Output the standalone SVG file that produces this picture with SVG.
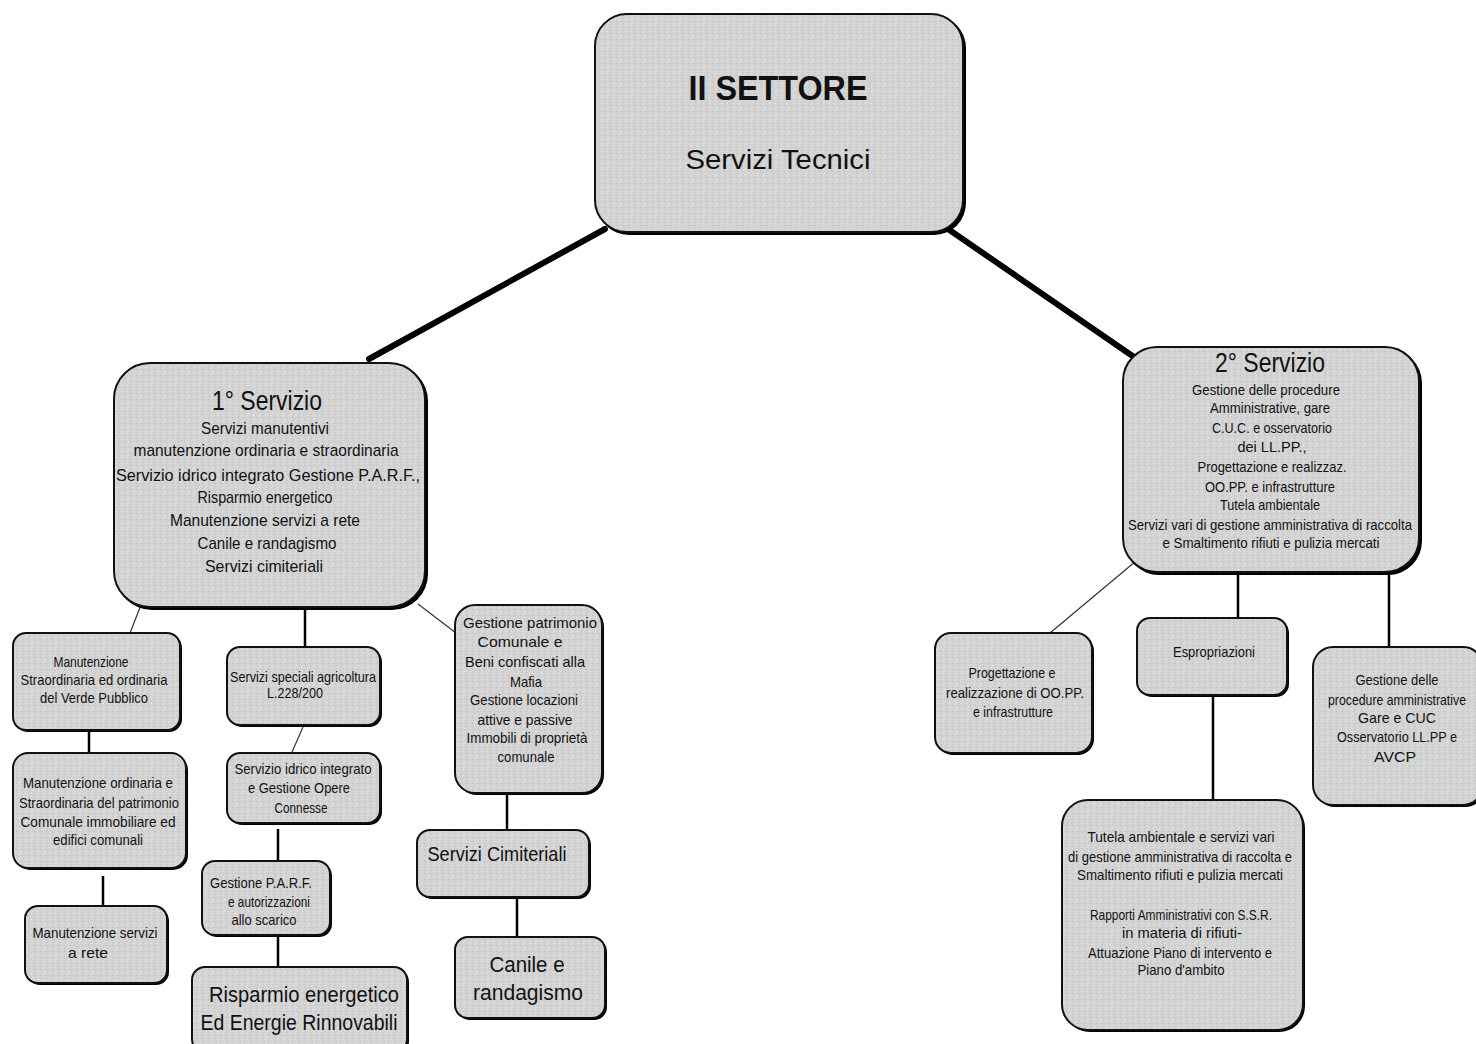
<svg xmlns="http://www.w3.org/2000/svg" width="1476" height="1044" viewBox="0 0 1476 1044">
  <defs>
    <!-- stippled grey fill used by every box -->
    <pattern id="stipple" width="6" height="6" patternUnits="userSpaceOnUse">
      <rect width="6" height="6" fill="#d3d3d3"/>
      <rect x="1" y="1" width="1" height="1" fill="#e8e8e8"/>
      <rect x="4" y="3" width="1" height="1" fill="#bcbcbc"/>
      <rect x="2" y="5" width="1" height="1" fill="#e2e2e2"/>
      <rect x="5" y="0" width="1" height="1" fill="#c4c4c4"/>
    </pattern>
    <style>
      .shadow { fill: #000; }
      .box { fill: url(#stipple); stroke: #111; stroke-width: 2; }
      .t { font-family: "Liberation Sans", Arial, sans-serif; fill: #111; text-anchor: middle; }
      .s { font-size: 15px; }
      .m { font-size: 17px; }
      .l { font-size: 22px; }
      .title { font-size: 27px; }
      .heavy { stroke: #000; stroke-width: 6; stroke-linecap: round; fill: none; }
      .solid { stroke: #000; stroke-width: 2.5; fill: none; }
      .thin { stroke: #333; stroke-width: 1.2; fill: none; }
    </style>
  </defs>

  <rect width="1476" height="1044" fill="#ffffff"/>

  <!-- connectors -->
  <g id="connectors">
    <line class="heavy" x1="605" y1="229" x2="369" y2="359"/>
    <line class="heavy" x1="948" y1="229" x2="1134" y2="357"/>
    <!-- 1° Servizio branch -->
    <line class="thin" x1="141" y1="605" x2="130" y2="633"/>
    <line class="solid" x1="89" y1="730" x2="89" y2="753"/>
    <line class="solid" x1="103" y1="876" x2="103" y2="906"/>
    <line class="solid" x1="305" y1="609" x2="305" y2="647"/>
    <line class="thin" x1="303" y1="727" x2="292" y2="752"/>
    <line class="solid" x1="278" y1="829" x2="278" y2="861"/>
    <line class="solid" x1="278" y1="936" x2="278" y2="967"/>
    <line class="thin" x1="418" y1="604" x2="456" y2="633"/>
    <line class="solid" x1="507" y1="793" x2="507" y2="830"/>
    <line class="solid" x1="517" y1="898" x2="517" y2="937"/>
    <!-- 2° Servizio branch -->
    <line class="thin" x1="1136" y1="561" x2="1050" y2="633"/>
    <line class="solid" x1="1238" y1="574" x2="1238" y2="618"/>
    <line class="solid" x1="1213" y1="695" x2="1213" y2="800"/>
    <line class="solid" x1="1389" y1="574" x2="1389" y2="647"/>
  </g>

  <!-- II SETTORE -->
  <g id="settore">
    <rect class="shadow" x="597" y="16" width="369" height="219" rx="32"/>
    <rect class="box" x="595" y="14" width="368" height="218" rx="32"/>
    <text class="t" x="778" y="100" font-size="35" font-weight="bold" textLength="179" lengthAdjust="spacingAndGlyphs">II SETTORE</text>
    <text class="t" x="778" y="169" font-size="28" textLength="185" lengthAdjust="spacingAndGlyphs">Servizi Tecnici</text>
  </g>

  <!-- 1° Servizio -->
  <g id="servizio1">
    <rect class="shadow" x="116" y="365" width="312" height="245" rx="36"/>
    <rect class="box" x="114" y="363" width="311" height="244" rx="36"/>
    <text class="t title" x="267" y="410" textLength="110" lengthAdjust="spacingAndGlyphs">1° Servizio</text>
    <text class="t m" x="265" y="434" textLength="128" lengthAdjust="spacingAndGlyphs">Servizi manutentivi</text>
    <text class="t m" x="266" y="456" textLength="265" lengthAdjust="spacingAndGlyphs">manutenzione ordinaria e straordinaria</text>
    <text class="t m" x="268" y="481" textLength="304" lengthAdjust="spacingAndGlyphs">Servizio idrico integrato Gestione P.A.R.F.,</text>
    <text class="t m" x="265" y="503" textLength="135" lengthAdjust="spacingAndGlyphs">Risparmio energetico</text>
    <text class="t m" x="265" y="526" textLength="190" lengthAdjust="spacingAndGlyphs">Manutenzione servizi a rete</text>
    <text class="t m" x="267" y="549" textLength="139" lengthAdjust="spacingAndGlyphs">Canile e randagismo</text>
    <text class="t m" x="264" y="572" textLength="118" lengthAdjust="spacingAndGlyphs">Servizi cimiteriali</text>
  </g>

  <!-- 2° Servizio -->
  <g id="servizio2">
    <rect class="shadow" x="1125" y="349" width="297" height="226" rx="34"/>
    <rect class="box" x="1123" y="347" width="296" height="225" rx="34"/>
    <text class="t title" x="1270" y="372" textLength="110" lengthAdjust="spacingAndGlyphs">2° Servizio</text>
    <text class="t s" x="1266" y="395" textLength="148" lengthAdjust="spacingAndGlyphs">Gestione delle procedure</text>
    <text class="t s" x="1270" y="413" textLength="120" lengthAdjust="spacingAndGlyphs">Amministrative, gare</text>
    <text class="t s" x="1272" y="433" textLength="120" lengthAdjust="spacingAndGlyphs">C.U.C. e osservatorio</text>
    <text class="t s" x="1272" y="452" textLength="69" lengthAdjust="spacingAndGlyphs">dei LL.PP.,</text>
    <text class="t s" x="1272" y="472" textLength="149" lengthAdjust="spacingAndGlyphs">Progettazione e realizzaz.</text>
    <text class="t s" x="1270" y="492" textLength="130" lengthAdjust="spacingAndGlyphs">OO.PP. e infrastrutture</text>
    <text class="t s" x="1270" y="510" textLength="100" lengthAdjust="spacingAndGlyphs">Tutela ambientale</text>
    <text class="t s" x="1270" y="530" textLength="284" lengthAdjust="spacingAndGlyphs">Servizi vari di gestione amministrativa di raccolta</text>
    <text class="t s" x="1271" y="548" textLength="217" lengthAdjust="spacingAndGlyphs">e Smaltimento rifiuti e pulizia mercati</text>
  </g>

  <!-- 1° Servizio: left column -->
  <g id="verde">
    <rect class="shadow" x="15" y="635" width="167" height="97" rx="13"/>
    <rect class="box" x="13" y="633" width="167" height="97" rx="13"/>
    <text class="t s" x="91" y="667" textLength="75" lengthAdjust="spacingAndGlyphs">Manutenzione</text>
    <text class="t s" x="94" y="685" textLength="147" lengthAdjust="spacingAndGlyphs">Straordinaria ed ordinaria</text>
    <text class="t s" x="94" y="703" textLength="108" lengthAdjust="spacingAndGlyphs">del Verde Pubblico</text>
  </g>

  <g id="patrimonio">
    <rect class="shadow" x="15" y="755" width="173" height="115" rx="15"/>
    <rect class="box" x="13" y="753" width="173" height="115" rx="15"/>
    <text class="t s" x="98" y="788" textLength="150" lengthAdjust="spacingAndGlyphs">Manutenzione ordinaria e</text>
    <text class="t s" x="99" y="808" textLength="160" lengthAdjust="spacingAndGlyphs">Straordinaria del patrimonio</text>
    <text class="t s" x="98" y="827" textLength="155" lengthAdjust="spacingAndGlyphs">Comunale immobiliare ed</text>
    <text class="t s" x="98" y="845" textLength="90" lengthAdjust="spacingAndGlyphs">edifici comunali</text>
  </g>

  <g id="rete">
    <rect class="shadow" x="27" y="908" width="142" height="77" rx="13"/>
    <rect class="box" x="25" y="906" width="142" height="77" rx="13"/>
    <text class="t s" x="95" y="938" textLength="125" lengthAdjust="spacingAndGlyphs">Manutenzione servizi</text>
    <text class="t s" x="88" y="958" textLength="40" lengthAdjust="spacingAndGlyphs">a rete</text>
  </g>

  <!-- 1° Servizio: middle column -->
  <g id="agricoltura">
    <rect class="shadow" x="229" y="649" width="153" height="78" rx="13"/>
    <rect class="box" x="227" y="647" width="153" height="78" rx="13"/>
    <text class="t s" x="303" y="682" textLength="146" lengthAdjust="spacingAndGlyphs">Servizi speciali agricoltura</text>
    <text class="t s" x="295" y="698" textLength="56" lengthAdjust="spacingAndGlyphs">L.228/200</text>
  </g>

  <g id="idrico">
    <rect class="shadow" x="229" y="755" width="153" height="70" rx="13"/>
    <rect class="box" x="227" y="753" width="153" height="70" rx="13"/>
    <text class="t s" x="303" y="774" textLength="137" lengthAdjust="spacingAndGlyphs">Servizio idrico integrato</text>
    <text class="t s" x="299" y="793" textLength="102" lengthAdjust="spacingAndGlyphs">e Gestione Opere</text>
    <text class="t s" x="301" y="813" textLength="53" lengthAdjust="spacingAndGlyphs">Connesse</text>
  </g>

  <g id="parf">
    <rect class="shadow" x="204" y="863" width="128" height="74" rx="13"/>
    <rect class="box" x="202" y="861" width="128" height="74" rx="13"/>
    <text class="t s" x="261" y="888" textLength="102" lengthAdjust="spacingAndGlyphs">Gestione P.A.R.F.</text>
    <text class="t s" x="269" y="907" textLength="82" lengthAdjust="spacingAndGlyphs">e autorizzazioni</text>
    <text class="t s" x="264" y="925" textLength="65" lengthAdjust="spacingAndGlyphs">allo scarico</text>
  </g>

  <g id="risparmio">
    <rect class="shadow" x="194" y="969" width="215" height="85" rx="13"/>
    <rect class="box" x="192" y="967" width="215" height="85" rx="13"/>
    <text class="t l" x="304" y="1002" textLength="190" lengthAdjust="spacingAndGlyphs">Risparmio energetico</text>
    <text class="t l" x="299" y="1030" textLength="197" lengthAdjust="spacingAndGlyphs">Ed Energie Rinnovabili</text>
  </g>

  <!-- 1° Servizio: right column -->
  <g id="beni">
    <rect class="shadow" x="457" y="607" width="147" height="188" rx="20"/>
    <rect class="box" x="455" y="605" width="147" height="188" rx="20"/>
    <text class="t s" x="530" y="628" textLength="134" lengthAdjust="spacingAndGlyphs">Gestione patrimonio</text>
    <text class="t s" x="520" y="647" textLength="85" lengthAdjust="spacingAndGlyphs">Comunale e</text>
    <text class="t s" x="525" y="667" textLength="120" lengthAdjust="spacingAndGlyphs">Beni confiscati alla</text>
    <text class="t s" x="526" y="687" textLength="32" lengthAdjust="spacingAndGlyphs">Mafia</text>
    <text class="t s" x="524" y="705" textLength="108" lengthAdjust="spacingAndGlyphs">Gestione locazioni</text>
    <text class="t s" x="525" y="725" textLength="95" lengthAdjust="spacingAndGlyphs">attive e passive</text>
    <text class="t s" x="527" y="743" textLength="121" lengthAdjust="spacingAndGlyphs">Immobili di proprietà</text>
    <text class="t s" x="526" y="762" textLength="57" lengthAdjust="spacingAndGlyphs">comunale</text>
  </g>

  <g id="cimiteriali">
    <rect class="shadow" x="419" y="832" width="172" height="67" rx="13"/>
    <rect class="box" x="417" y="830" width="172" height="67" rx="13"/>
    <text class="t" x="497" y="861" font-size="21" textLength="139" lengthAdjust="spacingAndGlyphs">Servizi Cimiteriali</text>
  </g>

  <g id="canile">
    <rect class="shadow" x="457" y="939" width="150" height="81" rx="13"/>
    <rect class="box" x="455" y="937" width="150" height="81" rx="13"/>
    <text class="t" x="527" y="972" font-size="22" textLength="75" lengthAdjust="spacingAndGlyphs">Canile e</text>
    <text class="t" x="528" y="1000" font-size="22" textLength="110" lengthAdjust="spacingAndGlyphs">randagismo</text>
  </g>

  <!-- 2° Servizio children -->
  <g id="progettazione">
    <rect class="shadow" x="937" y="635" width="157" height="120" rx="16"/>
    <rect class="box" x="935" y="633" width="157" height="120" rx="16"/>
    <text class="t s" x="1012" y="678" textLength="87" lengthAdjust="spacingAndGlyphs">Progettazione e</text>
    <text class="t s" x="1015" y="698" textLength="138" lengthAdjust="spacingAndGlyphs">realizzazione di OO.PP.</text>
    <text class="t s" x="1013" y="717" textLength="80" lengthAdjust="spacingAndGlyphs">e infrastrutture</text>
  </g>

  <g id="espropriazioni">
    <rect class="shadow" x="1139" y="620" width="150" height="77" rx="13"/>
    <rect class="box" x="1137" y="618" width="150" height="77" rx="13"/>
    <text class="t s" x="1214" y="657" textLength="82" lengthAdjust="spacingAndGlyphs">Espropriazioni</text>
  </g>

  <g id="tutela">
    <rect class="shadow" x="1064" y="802" width="241" height="230" rx="26"/>
    <rect class="box" x="1062" y="800" width="241" height="230" rx="26"/>
    <text class="t s" x="1181" y="842" textLength="187" lengthAdjust="spacingAndGlyphs">Tutela ambientale e servizi vari</text>
    <text class="t s" x="1180" y="862" textLength="224" lengthAdjust="spacingAndGlyphs">di gestione amministrativa di raccolta e</text>
    <text class="t s" x="1180" y="880" textLength="206" lengthAdjust="spacingAndGlyphs">Smaltimento rifiuti e pulizia mercati</text>
    <text class="t s" x="1181" y="920" textLength="182" lengthAdjust="spacingAndGlyphs">Rapporti Amministrativi con S.S.R.</text>
    <text class="t s" x="1182" y="938" textLength="120" lengthAdjust="spacingAndGlyphs">in materia di rifiuti-</text>
    <text class="t s" x="1180" y="958" textLength="184" lengthAdjust="spacingAndGlyphs">Attuazione Piano di intervento e</text>
    <text class="t s" x="1181" y="975" textLength="87" lengthAdjust="spacingAndGlyphs">Piano d'ambito</text>
  </g>

  <g id="gare">
    <rect class="shadow" x="1315" y="649" width="170" height="158" rx="20"/>
    <rect class="box" x="1313" y="647" width="170" height="158" rx="20"/>
    <text class="t s" x="1397" y="685" textLength="83" lengthAdjust="spacingAndGlyphs">Gestione delle</text>
    <text class="t s" x="1397" y="705" textLength="138" lengthAdjust="spacingAndGlyphs">procedure amministrative</text>
    <text class="t s" x="1397" y="723" textLength="78" lengthAdjust="spacingAndGlyphs">Gare e CUC</text>
    <text class="t s" x="1397" y="742" textLength="120" lengthAdjust="spacingAndGlyphs">Osservatorio LL.PP e</text>
    <text class="t s" x="1395" y="762" textLength="42" lengthAdjust="spacingAndGlyphs">AVCP</text>
  </g>
</svg>
